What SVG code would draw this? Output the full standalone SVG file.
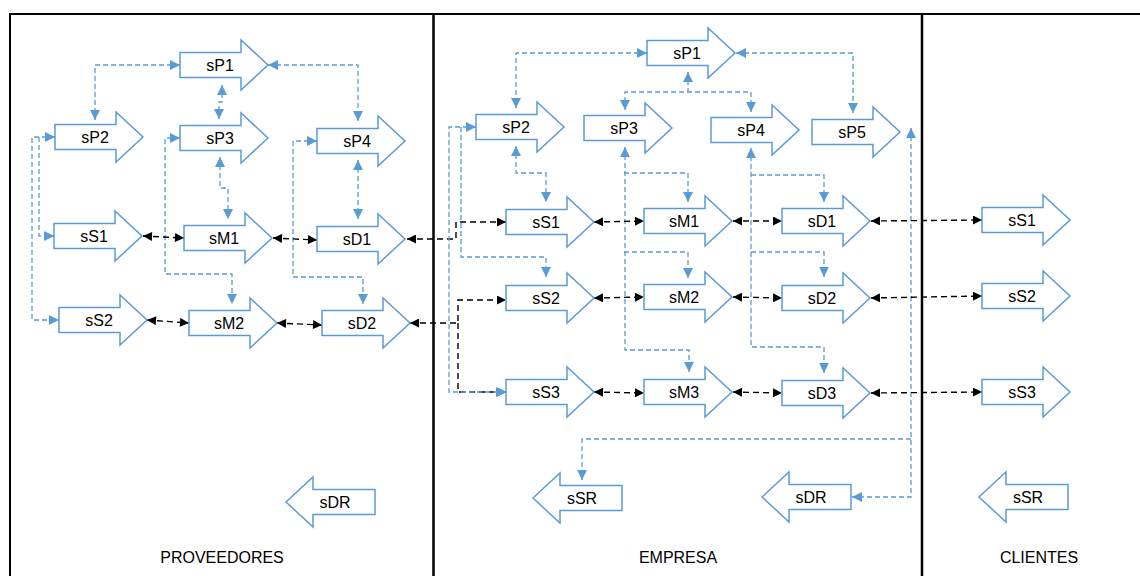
<svg xmlns="http://www.w3.org/2000/svg" xmlns:xlink="http://www.w3.org/1999/xlink" width="1140" height="576" viewBox="0 0 1140 576">
  <style>
    .blk { fill: #ffffff; stroke: #5B9BD5; stroke-width: 1.5; stroke-linejoin: miter; }
    .lbl { font-family: "Liberation Sans", Arial, sans-serif; font-size: 16px; fill: #000000; text-anchor: middle; }
    .frame { stroke: #000000; fill: none; }
    .bl { fill: none; stroke: #5B9BD5; stroke-width: 1.3; stroke-dasharray: 5 3; }
    .bk { fill: none; stroke: #000000; stroke-width: 1.4; stroke-dasharray: 6 4; }
    .b2 { marker-start: url(#mb); marker-end: url(#mb); }
    .b1 { marker-end: url(#mb); }
    .k2 { marker-start: url(#mk); marker-end: url(#mk); }
    .k1 { marker-end: url(#mk); }
  </style>
  <defs>
    <!-- block arrow pointing right, origin at body-left / mid-height -->
    <path id="rarr" class="blk" d="M0,-12.5 H61 V-25 L88,0 L61,25 V12.5 H0 Z"/>
    <!-- block arrow pointing left, origin at the tip -->
    <path id="larr" class="blk" d="M0,0 L27,-25 V-12.5 H89 V12.5 H27 V25 Z"/>
    <marker id="mb" viewBox="0 0 10 10" refX="10" refY="5" markerWidth="10" markerHeight="10" markerUnits="userSpaceOnUse" orient="auto-start-reverse">
      <path d="M0,0 L10,5 L0,10 Z" fill="#5B9BD5"/>
    </marker>
    <marker id="mk" viewBox="0 0 10 10" refX="10" refY="5" markerWidth="10" markerHeight="9" markerUnits="userSpaceOnUse" orient="auto-start-reverse">
      <path d="M0,0 L10,5 L0,10 Z" fill="#000000"/>
    </marker>
  </defs>

  <!-- panel frame -->
  <g id="frame">
    <line class="frame" x1="9" y1="14" x2="1140" y2="14" stroke-width="2"/>
    <line class="frame" x1="10" y1="13" x2="10" y2="576" stroke-width="2"/>
    <line class="frame" x1="433.5" y1="13" x2="433.5" y2="576" stroke-width="2.5"/>
    <line class="frame" x1="922" y1="13" x2="922" y2="576" stroke-width="2.5"/>
  </g>

  <!-- connectors -->
  <g id="connectors">
    <!-- proveedores: planning links -->
    <path class="bl b2" d="M180,65 H95 V120"/>
    <path class="bl b2" d="M268,65 H358 V121"/>
    <path class="bl b2" d="M222,85 V102 H219 V119"/>
    <path class="bl b2" d="M220,157 V188 H228 V219"/>
    <path class="bl b2" d="M358,160 V219"/>
    <path class="bl b2" d="M55,137 H32 V320 H59"/>
    <path class="bl b1" d="M39,137 V236 H54"/>
    <path class="bl b2" d="M180,138 H165 V274 H232 V304"/>
    <path class="bl b2" d="M317,141 H293 V277 H363 V304"/>
    <!-- proveedores: flow links -->
    <path class="bk k2" d="M143,236 L184,238"/>
    <path class="bk k2" d="M273,238 L317,240"/>
    <path class="bk k2" d="M147,320 L189,323"/>
    <path class="bk k2" d="M277,323 L322,325"/>
    <!-- proveedores to empresa -->
    <path class="bk k2" d="M407,239 H456 V222 H506"/>
    <path class="bk k2" d="M410,323 H458 V300 H506"/>
    <path class="bk k1" d="M458,323 V392 H506"/>

    <!-- empresa: planning links -->
    <path class="bl b2" d="M647,53 H516 V108"/>
    <path class="bl b2" d="M736,53 H853 V113"/>
    <path class="bl" d="M688,72 V92" marker-start="url(#mb)"/>
    <path class="bl b2" d="M625,110 V92 H751 V112"/>
    <path class="bl b2" d="M476,127 H449 V392 H506"/>
    <path class="bl b1" d="M461,127 V257 H546 V277"/>
    <path class="bl b2" d="M516,146 V173 H546 V202"/>
    <path class="bl b2" d="M625,147 V350 H689 V372"/>
    <path class="bl b1" d="M624,173 H688 V202"/>
    <path class="bl b1" d="M624,252 H688 V278"/>
    <path class="bl b2" d="M751,148 V347 H824 V373"/>
    <path class="bl b1" d="M751,175 H824 V202"/>
    <path class="bl b1" d="M751,252 H824 V277"/>
    <path class="bl b2" d="M911,128 V497 H852"/>
    <path class="bl b1" d="M911,439 H582 V480"/>

    <!-- empresa: flow links -->
    <path class="bk k2" d="M594,222 L644,221"/>
    <path class="bk k2" d="M733,221 L782,221"/>
    <path class="bk k2" d="M594,298 L644,297"/>
    <path class="bk k2" d="M733,297 L782,298"/>
    <path class="bk k2" d="M594,392 L644,393"/>
    <path class="bk k2" d="M733,392 L782,393"/>
    <!-- empresa to clientes -->
    <path class="bk k2" d="M871,221 L982,220"/>
    <path class="bk k2" d="M871,298 L982,296"/>
    <path class="bk k2" d="M871,393 L982,392"/>
  </g>

  <!-- PROVEEDORES -->
  <g id="prov-sP1" transform="translate(180,65)"><use href="#rarr"/><text class="lbl" x="40" y="6">sP1</text></g>
  <g id="prov-sP2" transform="translate(55,137)"><use href="#rarr"/><text class="lbl" x="40" y="6">sP2</text></g>
  <g id="prov-sP3" transform="translate(180,138)"><use href="#rarr"/><text class="lbl" x="40" y="6">sP3</text></g>
  <g id="prov-sP4" transform="translate(317,141)"><use href="#rarr"/><text class="lbl" x="40" y="6">sP4</text></g>
  <g id="prov-sS1" transform="translate(54,236)"><use href="#rarr"/><text class="lbl" x="40" y="6">sS1</text></g>
  <g id="prov-sM1" transform="translate(184,238)"><use href="#rarr"/><text class="lbl" x="40" y="6">sM1</text></g>
  <g id="prov-sD1" transform="translate(317,239)"><use href="#rarr"/><text class="lbl" x="40" y="6">sD1</text></g>
  <g id="prov-sS2" transform="translate(59,320)"><use href="#rarr"/><text class="lbl" x="40" y="6">sS2</text></g>
  <g id="prov-sM2" transform="translate(189,323)"><use href="#rarr"/><text class="lbl" x="40" y="6">sM2</text></g>
  <g id="prov-sD2" transform="translate(322,323)"><use href="#rarr"/><text class="lbl" x="40" y="6">sD2</text></g>
  <g id="prov-sDR" transform="translate(286,502)"><use href="#larr"/><text class="lbl" x="49" y="6">sDR</text></g>

  <!-- EMPRESA -->
  <g id="emp-sP1" transform="translate(647,53)"><use href="#rarr"/><text class="lbl" x="40" y="6">sP1</text></g>
  <g id="emp-sP2" transform="translate(476,127)"><use href="#rarr"/><text class="lbl" x="40" y="6">sP2</text></g>
  <g id="emp-sP3" transform="translate(584,128)"><use href="#rarr"/><text class="lbl" x="40" y="6">sP3</text></g>
  <g id="emp-sP4" transform="translate(711,130)"><use href="#rarr"/><text class="lbl" x="40" y="6">sP4</text></g>
  <g id="emp-sP5" transform="translate(812,132)"><use href="#rarr"/><text class="lbl" x="40" y="6">sP5</text></g>
  <g id="emp-sS1" transform="translate(506,222)"><use href="#rarr"/><text class="lbl" x="40" y="6">sS1</text></g>
  <g id="emp-sM1" transform="translate(644,221)"><use href="#rarr"/><text class="lbl" x="40" y="6">sM1</text></g>
  <g id="emp-sD1" transform="translate(782,221)"><use href="#rarr"/><text class="lbl" x="40" y="6">sD1</text></g>
  <g id="emp-sS2" transform="translate(506,298)"><use href="#rarr"/><text class="lbl" x="40" y="6">sS2</text></g>
  <g id="emp-sM2" transform="translate(644,297)"><use href="#rarr"/><text class="lbl" x="40" y="6">sM2</text></g>
  <g id="emp-sD2" transform="translate(782,298)"><use href="#rarr"/><text class="lbl" x="40" y="6">sD2</text></g>
  <g id="emp-sS3" transform="translate(506,392)"><use href="#rarr"/><text class="lbl" x="40" y="6">sS3</text></g>
  <g id="emp-sM3" transform="translate(644,392)"><use href="#rarr"/><text class="lbl" x="40" y="6">sM3</text></g>
  <g id="emp-sD3" transform="translate(782,393)"><use href="#rarr"/><text class="lbl" x="40" y="6">sD3</text></g>
  <g id="emp-sSR" transform="translate(533,498)"><use href="#larr"/><text class="lbl" x="49" y="6">sSR</text></g>
  <g id="emp-sDR" transform="translate(762,497)"><use href="#larr"/><text class="lbl" x="49" y="6">sDR</text></g>

  <!-- CLIENTES -->
  <g id="cli-sS1" transform="translate(982,220)"><use href="#rarr"/><text class="lbl" x="40" y="6">sS1</text></g>
  <g id="cli-sS2" transform="translate(982,296)"><use href="#rarr"/><text class="lbl" x="40" y="6">sS2</text></g>
  <g id="cli-sS3" transform="translate(982,392)"><use href="#rarr"/><text class="lbl" x="40" y="6">sS3</text></g>
  <g id="cli-sSR" transform="translate(979,497)"><use href="#larr"/><text class="lbl" x="49" y="6">sSR</text></g>

  <!-- panel titles -->
  <g id="titles">
    <text class="lbl" x="222" y="563">PROVEEDORES</text>
    <text class="lbl" x="678" y="563">EMPRESA</text>
    <text class="lbl" x="1039" y="563">CLIENTES</text>
  </g>
</svg>
